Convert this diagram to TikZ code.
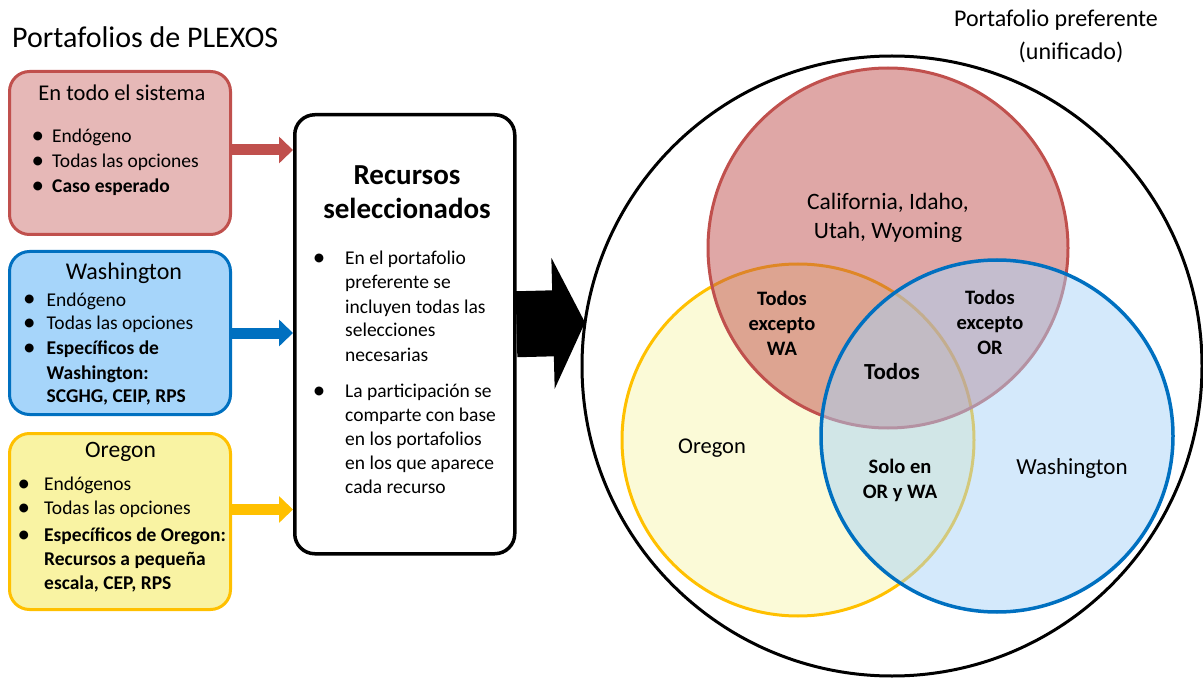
\documentclass[tikz,border=0pt]{standalone}
\usepackage{fontspec}
\setmainfont{Carlito}
\usepackage{tikz}
\usetikzlibrary{arrows.meta,calc}

\definecolor{rojoborde}{HTML}{C0504D}
\definecolor{rojofondo}{HTML}{E6B8B7}
\definecolor{azulborde}{HTML}{0070C0}
\definecolor{azulfondo}{HTML}{A6D5FA}
\definecolor{azulvenn}{HTML}{A9D3F7}
\definecolor{amarilloborde}{HTML}{FFC000}
\definecolor{amarillofondo}{HTML}{F9F3A3}
\definecolor{amarillovenn}{HTML}{FBFAD7}

\newcommand{\punto}[1]{\llap{\raisebox{-1pt}{\fontsize{25}{24}\selectfont\textbullet}\hspace{#1pt}}}

\tikzset{
  caja/.style={draw, rounded corners=20pt, line width=3pt, minimum width=221pt,
    anchor=north west, inner sep=0pt},
  flecha/.style={line width=11pt, -{Triangle[length=14pt,width=26pt]}},
  item/.style={anchor=west, inner sep=0pt, text height=14pt, text depth=4pt,
    font=\fontsize{19.5}{24}\selectfont},
  titulo/.style={inner sep=0pt},
  venn/.style={circle, inner sep=0pt, line width=3pt},
  vtexto/.style={align=center, inner sep=0pt, font=\fontsize{20.5}{25}\selectfont\bfseries}
}

\begin{document}
\begin{tikzpicture}[x=1pt,y=-1pt]
\useasboundingbox (0,0) rectangle (1203,679);

% Titulo de la izquierda
\node[titulo, anchor=west, font=\fontsize{30}{36}\selectfont] (plexos) at (12,37) {Portafolios de PLEXOS};

% Caja 1: En todo el sistema
\node[caja, draw=rojoborde, fill=rojofondo, minimum height=163pt] (todo) at (8,70) {};
\node[titulo, font=\fontsize{22.5}{27}\selectfont] (t1) at (122,93) {En todo el sistema};
\foreach \y/\t [count=\i] in {138/Endógeno, 163/Todas las opciones, 188/\textbf{Caso esperado}}
  \node[item] (a\i) at (52,\y) {\punto{8}\t};

% Caja 2: Washington
\node[caja, draw=azulborde, fill=azulfondo, minimum height=163pt] (wash) at (8,250) {};
\node[titulo, font=\fontsize{24}{29}\selectfont] (t2) at (124,273) {Washington};
\foreach \y/\t [count=\i] in {301/\punto{11}Endógeno, 325/\punto{11}Todas las opciones,
    350/\punto{11}\textbf{Específicos de}, 374/\textbf{Washington:}, 397/\textbf{SCGHG, CEIP, RPS}}
  \node[item] (b\i) at (46.5,\y) {\t};

% Caja 3: Oregon
\node[caja, draw=amarilloborde, fill=amarillofondo, minimum height=176pt] (oreg) at (8,432) {};
\node[titulo, font=\fontsize{23.5}{28}\selectfont] (t3) at (120.5,452) {Oregon};
\foreach \y/\t [count=\i] in {485/\punto{14}Endógenos, 509/\punto{14}Todas las opciones,
    536/\punto{14}\textbf{Específicos de Oregon:}, 560/\textbf{Recursos a pequeña}, 584/\textbf{escala, CEP, RPS}}
  \node[item] (c\i) at (44,\y) {\t};

% Caja central
\node[caja, draw=black, fill=white, line width=3.5pt, minimum width=220pt, minimum height=439pt] (recursos) at (293,113) {};
\node[titulo, font=\fontsize{29}{33}\selectfont\bfseries] (t4) at (407,175) {Recursos};
\node[titulo, font=\fontsize{29}{33}\selectfont\bfseries] (t5) at (407,208) {seleccionados};
\foreach \y/\t [count=\i] in {260/\punto{20}En el portafolio, 284/preferente se, 308/incluyen todas las,
    332/selecciones, 356/necesarias, 392/\punto{20}La participación se, 416/comparte con base,
    440/en los portafolios, 464/en los que aparece, 488/cada recurso}
  \node[item] (d\i) at (345,\y) {\t};

% Flechas hacia la caja central
\draw[flecha, rojoborde] ([yshift=3pt]todo.east) -- ([yshift=3pt]todo.east -| recursos.west);
\draw[flecha, azulborde] (wash.east) -- (wash.east -| recursos.west);
\draw[flecha, amarilloborde] ([yshift=12pt]oreg.east) -- ([yshift=12pt]oreg.east -| recursos.west);

% Flecha grande
\coordinate (punta) at (585,322.5);
\draw[line width=66pt, -{Triangle[length=32pt,width=130pt]}] ([yshift=10pt]recursos.east) -- (punta);

% Diagrama de Venn
\node[venn, draw=black, minimum size=620pt] (total) at (892,366) {};
\node[venn, draw=amarilloborde, fill=amarillovenn, minimum size=352pt] (vor) at (798,440) {};
\node[venn, draw=rojoborde, fill=rojoborde, fill opacity=0.5, minimum size=360pt] (vresto) at (888,248) {};
\node[venn, draw=azulborde, fill=azulvenn, fill opacity=0.5, line width=3.5pt, minimum size=352pt] (vwa) at (997,436) {};

% Textos del Venn
\node[titulo, font=\fontsize{24}{29}\selectfont] (pref) at (1056,20) {Portafolio preferente};
\node[titulo, font=\fontsize{24}{29}\selectfont] (unif) at (1071,52) {(unificado)};
\node[titulo, align=center, font=\fontsize{23.5}{29}\selectfont] (resto) at (888,218) {California, Idaho,\\Utah, Wyoming};
\node[vtexto] (exwa) at (782,323) {Todos\\excepto\\WA};
\node[vtexto] (exor) at (990,322) {Todos\\excepto\\OR};
\node[titulo, font=\fontsize{23}{28}\selectfont\bfseries] (todos) at (892,372) {Todos};
\node[titulo, font=\fontsize{22.5}{27}\selectfont] (lor) at (712,448) {Oregon};
\node[vtexto] (orwa) at (900,480) {Solo en\\OR y WA};
\node[titulo, font=\fontsize{23}{28}\selectfont] (lwa) at (1072,468) {Washington};

\end{tikzpicture}
\end{document}
